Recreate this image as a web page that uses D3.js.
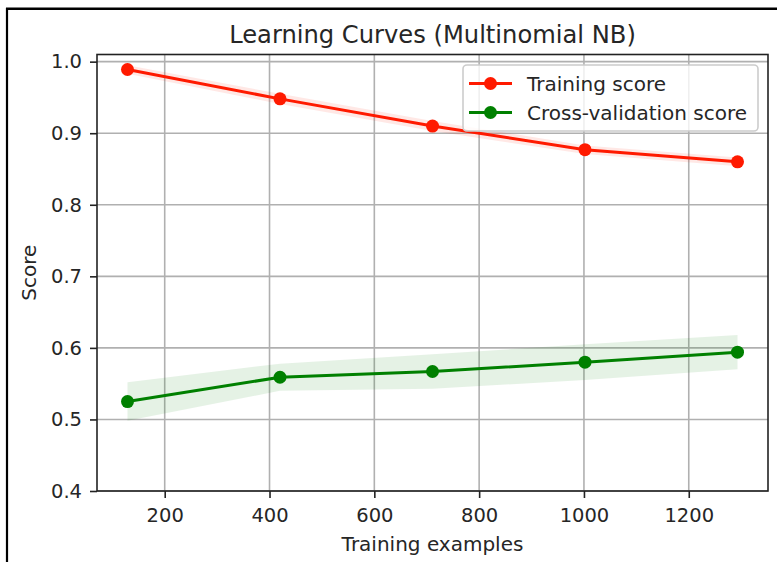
<!DOCTYPE html>
<html>
<head>
<meta charset="utf-8">
<script src="https://cdn.jsdelivr.net/npm/d3@7"></script>
<style>
  html, body { margin: 0; padding: 0; background: #fff; }
  svg { display: block; font-family: "DejaVu Sans", sans-serif; }
</style>
</head>
<body>
<svg id="chart" width="777" height="562"></svg>
<script>
// Learning-curve results for the Multinomial Naive Bayes model
const trainSizes = [129, 420, 711, 1002, 1293];
const trainMean  = [0.989, 0.948, 0.910, 0.877, 0.860];
const trainStd   = [0.006, 0.007, 0.007, 0.006, 0.006];
const cvMean     = [0.525, 0.559, 0.567, 0.580, 0.594];
const cvStd      = [0.027, 0.019, 0.024, 0.025, 0.024];
const seriesNames = ["Training score", "Cross-validation score"];
const seriesColors = ["#ff1a00", "#008000"];
const xTicks = [200, 400, 600, 800, 1000, 1200];
const yTicks = [0.4, 0.5, 0.6, 0.7, 0.8, 0.9, 1.0];

const svg = d3.select("#chart");
const W = 777, H = 562;
const plot = { left: 97, right: 768, top: 54.5, bottom: 491 };

// outer frame (left and top edges)
svg.append("line").attr("x1", 7).attr("x2", 7).attr("y1", 8).attr("y2", H)
  .attr("stroke", "#000").attr("stroke-width", 2.2);
svg.append("line").attr("x1", 6).attr("x2", W).attr("y1", 8.7).attr("y2", 8.7)
  .attr("stroke", "#000").attr("stroke-width", 2.4);

// x margin of 5% of data range, as matplotlib does
const xMin = d3.min(trainSizes), xMax = d3.max(trainSizes);
const pad = (xMax - xMin) * 0.05;
const x = d3.scaleLinear().domain([xMin - pad, xMax + pad]).range([plot.left, plot.right]);
const y = d3.scaleLinear().domain([0.4, 1.01]).range([plot.bottom, plot.top]);

svg.append("defs").append("clipPath").attr("id", "clip")
  .append("rect").attr("x", plot.left).attr("y", plot.top)
  .attr("width", plot.right - plot.left).attr("height", plot.bottom - plot.top);

// grid
const grid = svg.append("g");
grid.selectAll(".gx").data(xTicks).join("line")
  .attr("x1", d => x(d)).attr("x2", d => x(d))
  .attr("y1", plot.top).attr("y2", plot.bottom)
  .attr("stroke", "#b0b0b0").attr("stroke-width", 1.6);
grid.selectAll(".gy").data(yTicks).join("line")
  .attr("x1", plot.left).attr("x2", plot.right)
  .attr("y1", d => y(d)).attr("y2", d => y(d))
  .attr("stroke", "#b0b0b0").attr("stroke-width", 1.6);

const series = [
  { name: seriesNames[0], color: seriesColors[0], mean: trainMean, std: trainStd },
  { name: seriesNames[1], color: seriesColors[1], mean: cvMean, std: cvStd }
];

const g = svg.append("g").attr("clip-path", "url(#clip)");

// std bands
const area = d3.area()
  .x(d => x(d.n)).y0(d => y(d.m - d.s)).y1(d => y(d.m + d.s));
series.forEach(s => {
  const pts = trainSizes.map((n, i) => ({ n, m: s.mean[i], s: s.std[i] }));
  g.append("path").datum(pts).attr("d", area)
    .attr("fill", s.color).attr("fill-opacity", 0.1);
});

// mean lines and markers
const line = d3.line().x(d => x(d.n)).y(d => y(d.m));
series.forEach(s => {
  const pts = trainSizes.map((n, i) => ({ n, m: s.mean[i] }));
  g.append("path").datum(pts).attr("d", line)
    .attr("fill", "none").attr("stroke", s.color).attr("stroke-width", 3);
  g.selectAll(null).data(pts).join("circle")
    .attr("cx", d => x(d.n)).attr("cy", d => y(d.m)).attr("r", 6.5)
    .attr("fill", s.color);
});

// axes
const xAxis = d3.axisBottom(x).tickValues(xTicks).tickFormat(d3.format("d"))
  .tickSizeInner(7).tickSizeOuter(0).tickPadding(10);
const yAxis = d3.axisLeft(y).tickValues(yTicks).tickFormat(d3.format(".1f"))
  .tickSizeInner(7).tickSizeOuter(0).tickPadding(8);

const gx = svg.append("g").attr("transform", `translate(0,${plot.bottom})`).call(xAxis);
const gy = svg.append("g").attr("transform", `translate(${plot.left},0)`).call(yAxis);
[gx, gy].forEach(a => {
  a.select(".domain").remove();
  a.selectAll("line").attr("stroke", "#222").attr("stroke-width", 1.6);
  a.selectAll("text").attr("fill", "#262626").attr("font-size", 19.5)
    .attr("font-family", "DejaVu Sans, sans-serif");
});

// spines
svg.append("rect").attr("x", plot.left).attr("y", plot.top)
  .attr("width", plot.right - plot.left).attr("height", plot.bottom - plot.top)
  .attr("fill", "none").attr("stroke", "#222").attr("stroke-width", 1.6);

// title and axis labels
svg.append("text").attr("x", (plot.left + plot.right) / 2).attr("y", 43)
  .attr("text-anchor", "middle").attr("font-size", 24.2).attr("fill", "#262626")
  .text("Learning Curves (Multinomial NB)");
svg.append("text").attr("x", (plot.left + plot.right) / 2).attr("y", 551)
  .attr("text-anchor", "middle").attr("font-size", 20).attr("fill", "#262626")
  .text("Training examples");
svg.append("text").attr("transform", `translate(36,${(plot.top + plot.bottom) / 2}) rotate(-90)`)
  .attr("text-anchor", "middle").attr("font-size", 20).attr("fill", "#262626")
  .text("Score");

// legend
const lg = svg.append("g");
lg.append("rect").attr("x", 463).attr("y", 65).attr("width", 295).attr("height", 66)
  .attr("rx", 4).attr("fill", "#fff").attr("fill-opacity", 0.8)
  .attr("stroke", "#cccccc").attr("stroke-width", 1.6);
const rows = lg.selectAll(".row").data(series).join("g")
  .attr("transform", (d, i) => `translate(0,${83.5 + i * 29})`);
rows.append("line").attr("x1", 469).attr("x2", 512).attr("y1", 0).attr("y2", 0)
  .attr("stroke", d => d.color).attr("stroke-width", 3);
rows.append("circle").attr("cx", 490.5).attr("cy", 0).attr("r", 6.5)
  .attr("fill", d => d.color);
rows.append("text").attr("x", 527).attr("y", 0).attr("dy", "0.36em")
  .attr("font-size", 20).attr("fill", "#262626").text(d => d.name);
</script>
</body>
</html>
